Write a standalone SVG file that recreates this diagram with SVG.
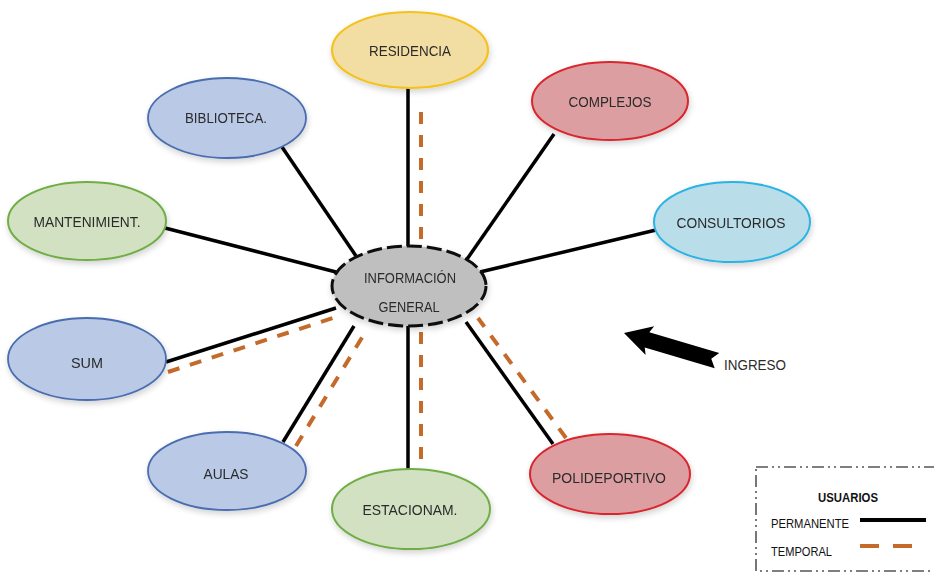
<svg xmlns="http://www.w3.org/2000/svg" width="934" height="584" viewBox="0 0 934 584">
  <defs>
    <filter id="soft" x="-20%" y="-20%" width="140%" height="150%">
      <feGaussianBlur in="SourceAlpha" stdDeviation="3"/>
      <feOffset dx="1" dy="3"/>
      <feComponentTransfer><feFuncA type="linear" slope="0.18"/></feComponentTransfer>
      <feMerge><feMergeNode/><feMergeNode in="SourceGraphic"/></feMerge>
    </filter>
  </defs>
  <style>
    .lbl { font-family: "Liberation Sans", Arial, sans-serif; font-size: 14px; fill: #2b2b2b; text-anchor: middle; }
    .leg { font-family: "Liberation Sans", Arial, sans-serif; font-size: 13.5px; fill: #111; }
    .yellow { fill: #f2dea2; stroke: #f4c21c; stroke-width: 2.2; }
    .blue { fill: #b9c9e6; stroke: #4a6db0; stroke-width: 1.8; }
    .red { fill: #dc9ea1; stroke: #d9262f; stroke-width: 2; }
    .green { fill: #d3e1c3; stroke: #6fae45; stroke-width: 2; }
    .cyan { fill: #b9dde9; stroke: #2cb3e4; stroke-width: 2; }
    .hub { fill: #bfbfbf; stroke: #111; stroke-width: 3; stroke-dasharray: 15 5; }
    .perm { stroke: #000; stroke-width: 3.5; fill: none; }
    .temp { stroke: #c46a2a; stroke-width: 4; stroke-dasharray: 12 11; fill: none; }
  </style>
  <rect width="934" height="584" fill="#fff"/>

  <!-- connectors -->
  <g id="connectors">
    <line class="perm" x1="408" y1="88" x2="408" y2="247"/>
    <line class="temp" x1="421" y1="112" x2="421" y2="250"/>
    <line class="perm" x1="282" y1="147" x2="356" y2="256"/>
    <line class="perm" x1="554" y1="134" x2="465" y2="262"/>
    <line class="perm" x1="165" y1="228" x2="336" y2="272"/>
    <line class="perm" x1="656" y1="230" x2="480" y2="272"/>
    <line class="perm" x1="166" y1="362" x2="336" y2="308"/>
    <line class="temp" x1="168" y1="372" x2="336" y2="317"/>
    <line class="perm" x1="283" y1="442" x2="354" y2="326"/>
    <line class="temp" x1="296" y1="446" x2="366" y2="331"/>
    <line class="perm" x1="408" y1="326" x2="408" y2="470"/>
    <line class="temp" x1="421" y1="332" x2="421" y2="492"/>
    <line class="perm" x1="553" y1="444" x2="466" y2="322"/>
    <line class="temp" x1="566" y1="438" x2="478" y2="318"/>
  </g>

  <g id="residencia" filter="url(#soft)">
    <ellipse class="yellow" cx="410" cy="50" rx="78" ry="38"/>
    <text class="lbl" x="410" y="56" textLength="82" lengthAdjust="spacingAndGlyphs">RESIDENCIA</text>
  </g>
  <g id="biblioteca" filter="url(#soft)">
    <ellipse class="blue" cx="227" cy="118" rx="79" ry="40"/>
    <text class="lbl" x="226" y="123" textLength="82" lengthAdjust="spacingAndGlyphs">BIBLIOTECA.</text>
  </g>
  <g id="complejos" filter="url(#soft)">
    <ellipse class="red" cx="610" cy="101" rx="78" ry="39"/>
    <text class="lbl" x="610" y="107" textLength="83" lengthAdjust="spacingAndGlyphs">COMPLEJOS</text>
  </g>
  <g id="mantenimiento" filter="url(#soft)">
    <ellipse class="green" cx="87" cy="221" rx="79" ry="39"/>
    <text class="lbl" x="87" y="227" textLength="107" lengthAdjust="spacingAndGlyphs">MANTENIMIENT.</text>
  </g>
  <g id="consultorios" filter="url(#soft)">
    <ellipse class="cyan" cx="732" cy="222" rx="78" ry="40"/>
    <text class="lbl" x="731" y="228" textLength="109" lengthAdjust="spacingAndGlyphs">CONSULTORIOS</text>
  </g>
  <g id="informacion" filter="url(#soft)">
    <ellipse class="hub" cx="409" cy="286" rx="77" ry="40"/>
    <text class="lbl" x="410" y="283" textLength="92" lengthAdjust="spacingAndGlyphs">INFORMACIÓN</text>
    <text class="lbl" x="409" y="312" textLength="61" lengthAdjust="spacingAndGlyphs">GENERAL</text>
  </g>
  <g id="sum" filter="url(#soft)">
    <ellipse class="blue" cx="87" cy="359" rx="79" ry="41"/>
    <text class="lbl" x="87" y="368" textLength="32" lengthAdjust="spacingAndGlyphs">SUM</text>
  </g>
  <g id="aulas" filter="url(#soft)">
    <ellipse class="blue" cx="227" cy="471" rx="79" ry="39"/>
    <text class="lbl" x="226" y="479" textLength="45" lengthAdjust="spacingAndGlyphs">AULAS</text>
  </g>
  <g id="estacionamiento" filter="url(#soft)">
    <ellipse class="green" cx="411" cy="509" rx="79" ry="40"/>
    <text class="lbl" x="410" y="515" textLength="95" lengthAdjust="spacingAndGlyphs">ESTACIONAM.</text>
  </g>
  <g id="polideportivo" filter="url(#soft)">
    <ellipse class="red" cx="610" cy="474" rx="80" ry="40"/>
    <text class="lbl" x="609" y="483" textLength="114" lengthAdjust="spacingAndGlyphs">POLIDEPORTIVO</text>
  </g>

  <!-- entrance arrow -->
  <g id="ingreso">
    <polygon fill="#000" transform="translate(624,333) rotate(16.5)"
      points="0,0 27,-15 24,-8 97,-8 91,0 97,8 24,8 27,15"/>
    <text class="lbl" x="755" y="370" textLength="62" lengthAdjust="spacingAndGlyphs">INGRESO</text>
  </g>

  <!-- legend -->
  <g id="legend">
    <rect x="756" y="467" width="200" height="104" fill="#fff" stroke="#555" stroke-width="1.6" stroke-dasharray="12 4 2 4 2 4"/>
    <text class="leg" x="848" y="502" text-anchor="middle" font-weight="bold" textLength="60" lengthAdjust="spacingAndGlyphs">USUARIOS</text>
    <text class="leg" x="771" y="528" textLength="78" lengthAdjust="spacingAndGlyphs">PERMANENTE</text>
    <line x1="860" y1="520" x2="926" y2="520" stroke="#000" stroke-width="4"/>
    <text class="leg" x="771" y="556" textLength="61" lengthAdjust="spacingAndGlyphs">TEMPORAL</text>
    <line x1="860" y1="546" x2="926" y2="546" stroke="#c46a2a" stroke-width="4" stroke-dasharray="19 14"/>
  </g>
</svg>
